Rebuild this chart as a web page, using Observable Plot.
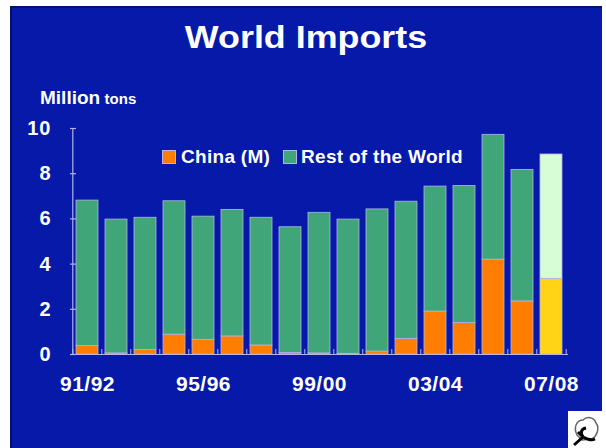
<!DOCTYPE html>
<html><head><meta charset="utf-8">
<script src="https://cdn.jsdelivr.net/npm/d3@7"></script>
<script src="https://cdn.jsdelivr.net/npm/@observablehq/plot@0.6"></script>
<style>
body{margin:0;background:#fff;}
#wrap{position:relative;width:606px;height:448px;overflow:hidden;font-family:Arial,"Liberation Sans",sans-serif;font-weight:bold;color:#fff;}
#panel{position:absolute;left:10px;top:6px;width:592px;height:442px;background:#0619a8;box-sizing:border-box;border-left:2px solid #03106c;border-top:2px solid #03106c;}
#chart{position:absolute;left:0;top:0;}
#title{position:absolute;left:0;width:612px;top:21px;text-align:center;font-size:32px;line-height:32px;transform:scaleX(1.12);transform-origin:306px 0;}
#unit{position:absolute;left:40px;top:88px;line-height:20px;white-space:nowrap;}
#unit .a{font-size:19px;}
#unit .b{font-size:15px;}
.leg{position:absolute;top:147px;font-size:19px;line-height:19px;letter-spacing:0.3px;white-space:nowrap;}
.sw{position:absolute;top:150px;width:14px;height:14px;box-sizing:border-box;border:1px solid #b4b4e6;}
#logo{position:absolute;left:568px;top:411px;width:34px;height:37px;background:#fff;}
#chart [aria-label="y-axis tick label"]{letter-spacing:1px;}
#chart [aria-label="x-axis tick label"]{letter-spacing:0.5px;}
</style></head>
<body>
<div id="wrap">
  <div id="panel"></div>
  <div id="chart"></div>
  <div id="title">World Imports</div>
  <div id="unit"><span class="a">Million</span> <span class="b">tons</span></div>
  <div class="sw" style="left:162px;background:#ff7d00"></div>
  <div class="leg" style="left:181px">China (M)</div>
  <div class="sw" style="left:283px;background:#40a578"></div>
  <div class="leg" style="left:301px">Rest of the World</div>
  <div id="logo"><svg width="34" height="37" viewBox="0 0 34 37">
    <path d="M9 24 C5 16 9 9 15 9 C19 5 26 6 28 12 C32 17 29 25 24 28 L14 29 Z" fill="#fff" stroke="#666" stroke-width="1.5"/>
    <path d="M6 34 L15 26 M15 26 C12 22 13 18 18 17 M15 26 C19 28 23 30 27 28 M15 26 L10 21" stroke="#000" stroke-width="3" fill="none"/>
  </svg></div>
</div>
<script>
const seasons = ["91/92","92/93","93/94","94/95","95/96","96/97","97/98","98/99","99/00","00/01","01/02","02/03","03/04","04/05","05/06","06/07","07/08"];
const labelSeasons = ["91/92","95/96","99/00","03/04","07/08"];
const china = [0.37,0.05,0.20,0.88,0.65,0.80,0.40,0.07,0.05,0.03,0.13,0.69,1.90,1.39,4.20,2.35,3.35];
const rest  = [6.44,5.92,5.85,5.90,5.45,5.60,5.65,5.56,6.22,5.94,6.29,6.07,5.53,6.07,5.52,5.82,5.50];
const yTicks = [0,2,4,6,8,10];
const projected = ["07/08"];

const colChina = "#ff7d00", colRest = "#40a578";
const colChinaP = "#ffd416", colRestP = "#d6fdd6";
const axisColor = "#b4b4e6";

const rows = [];
seasons.forEach((s, i) => {
  const p = projected.includes(s);
  rows.push({season: s, series: "China (M)", value: china[i], color: p ? colChinaP : colChina});
  rows.push({season: s, series: "Rest of the World", value: rest[i], color: p ? colRestP : colRest});
});

const W = 606, H = 448, ml = 70, mr = 38, mt = 128, mb = 94;
const frameW = W - ml - mr, frameH = H - mt - mb;
const pIn = 0.25, pOut = 0.1;
const step = frameW / (seasons.length - pIn + 2 * pOut);

const chart = Plot.plot({
  width: W, height: H,
  marginLeft: ml, marginRight: mr, marginTop: mt, marginBottom: mb,
  style: {background: "transparent", color: "white", fontFamily: 'Arial, "Liberation Sans", sans-serif', fontWeight: "bold"},
  x: {domain: seasons, paddingInner: pIn, paddingOuter: pOut, label: null},
  y: {domain: [0, 10], label: null},
  color: {type: "identity"},
  marks: [
    Plot.barY(rows, {x: "season", y: "value", fill: "color", stroke: axisColor, strokeWidth: 0.8}),
    Plot.ruleY([0], {stroke: axisColor, strokeWidth: 1.2}),
    Plot.ruleX([seasons[0]], {y1: 0, y2: 10, dx: -step / 2, stroke: axisColor, strokeWidth: 1.2}),
    Plot.tickY(yTicks, {y: d => d, insetRight: frameW - 6, stroke: axisColor, strokeWidth: 1.2}),
    Plot.ruleX(seasons, {x: d => d, dx: -step / 2, insetTop: frameH - 5, stroke: axisColor}),
    Plot.ruleX([seasons[seasons.length - 1]], {x: d => d, dx: step / 2, insetTop: frameH - 5, stroke: axisColor}),
    Plot.axisY({ticks: yTicks, tickSize: 0, tickPadding: 19, fontSize: 20, label: null}),
    Plot.axisX({ticks: labelSeasons, tickSize: 0, tickPadding: 22, fontSize: 21, label: null})
  ]
});
document.getElementById("chart").appendChild(chart);
</script>
</body></html>
